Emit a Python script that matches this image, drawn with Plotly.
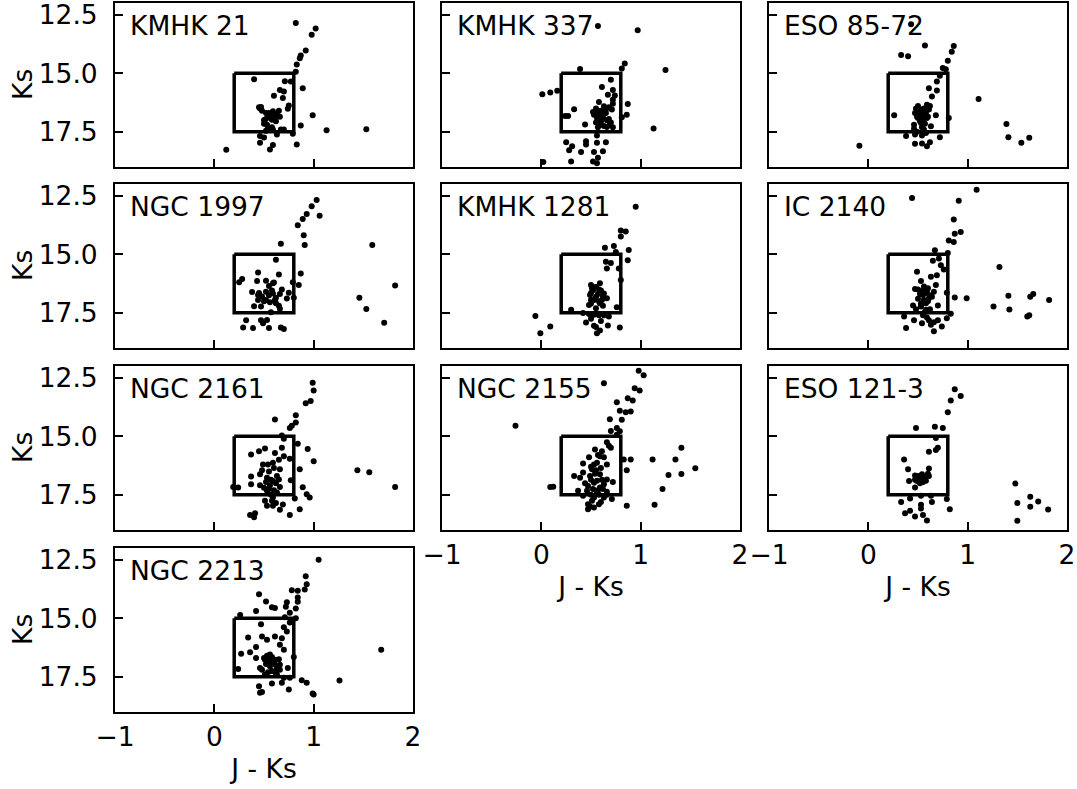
import plotly.graph_objects as go

# ---- Data (J-Ks colour, Ks magnitude) ----
kmhk21_x = [0.82,1.02,0.98,0.92,0.87,0.86,0.83,0.82,0.40,0.71,0.77,0.89,0.66,0.70,0.60,0.69,0.75,0.74,0.47,0.46,0.52,0.59,0.56,0.61,0.66,0.53,0.99,0.50,0.54,0.59,0.67,0.87,1.13,1.53,0.79,0.63,0.46,0.50,0.46,0.83,0.59,0.56,0.12,0.51,0.63,0.58,
            0.48,0.55,0.60,0.57,0.50,0.62,0.53,0.58,0.65,0.45,0.70,0.52]
kmhk21_y = [12.85,13.09,13.36,14.03,14.24,14.36,14.62,14.93,15.25,15.34,15.35,15.64,15.71,15.78,15.96,16.06,16.37,16.51,16.44,16.50,16.69,16.62,16.81,16.86,16.86,16.91,16.79,17.15,17.33,17.40,17.40,17.23,17.43,17.39,17.58,17.61,17.68,17.74,17.97,18.04,18.06,18.25,18.26,16.98,16.77,16.98,
            16.60,16.70,16.75,16.90,17.00,17.05,17.20,17.30,16.60,16.45,17.40,17.45]

kmhk337_x = [0.57,0.97,0.84,0.81,1.25,0.39,0.70,0.61,0.72,0.67,0.74,0.72,0.01,0.09,0.16,0.58,0.87,0.33,0.71,0.58,0.53,0.62,0.86,0.24,0.27,0.56,0.68,0.81,0.44,0.60,0.66,0.72,1.13,0.56,0.25,0.45,0.56,0.65,0.31,0.28,0.45,0.40,0.53,0.62,0.57,0.02,0.30,0.52,0.56,0.63,0.54,0.65,0.60,0.69,
             0.55,0.60,0.65,0.58,0.62,0.66,0.55,0.70,0.63,0.72,0.68,0.52,0.57]
kmhk337_y = [12.98,13.16,14.58,14.80,14.86,14.82,15.28,15.59,15.71,15.92,15.95,16.13,15.89,15.82,15.75,16.23,16.31,16.53,16.55,16.62,16.77,16.77,16.77,16.82,16.82,16.91,16.95,16.88,17.19,17.19,17.29,17.30,17.36,17.66,17.94,17.90,17.97,17.94,18.11,18.29,18.04,18.36,18.36,18.33,18.60,18.79,18.77,18.77,18.84,16.41,16.69,16.69,17.05,17.19,
             16.50,16.60,16.55,16.80,16.90,17.00,17.10,17.10,17.25,16.30,16.45,16.65,17.30]

eso85_x = [0.43,0.57,0.33,0.40,0.86,0.84,0.80,0.75,0.78,0.72,0.69,0.61,0.69,0.64,1.11,0.59,0.53,0.47,0.56,0.50,0.59,0.26,0.68,0.81,0.53,0.63,0.46,0.56,1.39,0.47,0.38,0.54,0.72,1.41,1.62,1.54,-0.09,0.47,0.54,0.62,0.59,0.54,0.61,0.51,
           0.48,0.52,0.56,0.58,0.49,0.55,0.60,0.52,0.57,0.46,0.62,0.50,0.54,0.49,0.58]
eso85_y = [12.91,13.81,14.22,14.27,13.84,14.08,14.46,14.77,14.83,15.11,15.35,15.64,15.73,15.99,16.10,16.34,16.55,16.69,16.77,16.91,16.91,16.79,16.79,16.91,17.12,17.26,17.37,17.40,17.16,17.61,17.68,17.66,17.73,17.73,17.75,17.97,18.09,18.01,18.00,17.94,18.11,16.62,16.55,16.81,
           16.50,16.60,16.50,16.70,16.85,16.95,16.85,17.05,17.15,17.20,16.40,16.40,17.30,17.50,17.55]

ngc1997_x = [1.03,0.98,0.93,0.89,1.06,0.84,0.90,0.91,0.67,1.59,0.62,0.44,0.65,0.87,0.28,0.25,0.43,0.52,0.59,0.79,0.85,1.82,0.38,0.44,0.52,0.59,0.66,0.75,0.80,0.73,0.61,0.52,1.46,0.40,0.47,0.62,0.66,1.53,0.57,0.53,0.47,0.32,1.71,0.29,0.39,0.55,0.67,0.70,0.49,
             0.45,0.48,0.55,0.58,0.62,0.50,0.56,0.44,0.60,0.55,0.68,0.65]
ngc1997_y = [12.68,12.95,13.28,13.49,13.35,13.76,14.19,14.60,14.55,14.60,15.23,15.78,15.86,15.82,16.06,16.19,16.14,16.13,16.24,16.19,16.31,16.33,16.61,16.74,16.60,16.67,16.69,16.64,16.86,16.89,16.95,16.95,16.86,17.22,17.23,17.09,17.33,17.34,17.47,17.80,17.82,17.82,17.92,18.12,18.15,18.15,18.12,18.19,17.94,
             16.65,16.80,16.75,16.55,16.85,17.00,17.05,16.95,16.20,16.35,16.50,17.20]

kmhk1281_x = [0.95,0.80,0.85,0.80,0.64,0.73,0.88,0.75,0.87,0.65,0.70,0.66,0.78,0.80,0.50,0.59,0.52,0.58,0.63,0.49,0.55,0.66,0.48,0.59,0.76,0.30,-0.06,0.42,0.53,0.68,0.45,0.53,0.67,0.09,0.79,0.59,0.56,-0.01,0.55,0.61,0.50,
              0.51,0.55,0.60,0.50,0.57,0.62,0.53,0.58,0.50,0.62,0.55,0.48,0.58,0.63,0.50,0.60,0.55]
kmhk1281_y = [12.97,13.98,14.03,14.24,14.72,14.65,14.82,14.90,15.25,15.32,15.37,15.61,15.61,16.10,16.31,16.24,16.53,16.50,16.67,16.74,16.81,16.88,17.16,17.09,17.26,17.37,17.63,17.51,17.58,17.66,17.91,18.05,18.04,18.08,18.12,18.25,18.37,18.37,16.40,16.95,16.95,
              16.45,16.40,16.55,16.65,16.70,16.80,16.95,17.00,17.10,17.20,17.30,17.55,17.60,17.60,17.75,17.85,18.10]

ic2140_x = [1.09,0.44,0.91,0.86,0.93,0.87,0.81,0.86,0.67,0.80,0.71,0.65,0.73,0.76,0.49,0.69,0.63,1.32,0.53,0.68,0.47,0.59,0.55,0.64,0.79,0.87,0.99,0.45,0.53,0.70,1.26,1.41,1.63,1.66,1.82,1.42,0.58,0.83,0.36,1.60,1.62,0.79,0.46,0.61,0.70,0.54,0.63,0.74,0.38,0.66,0.56,0.61,0.58,0.53,
            0.50,0.55,0.60,0.52,0.58,0.62,0.50,0.56,0.60,0.66,0.53,0.48,0.57,0.62,0.55,0.59,0.66]
ic2140_y = [12.25,12.60,12.72,13.52,14.05,14.12,14.41,14.48,14.83,14.94,15.18,15.28,15.47,15.65,15.75,15.89,15.96,15.54,16.14,16.31,16.48,16.60,16.74,16.81,16.64,16.84,16.88,17.19,17.15,17.19,17.23,16.77,16.81,16.69,16.95,17.36,17.37,17.54,17.66,17.66,17.60,17.73,17.82,17.82,17.82,17.94,18.01,18.08,18.15,18.29,16.38,16.88,17.09,17.23,
            16.50,16.55,16.45,16.70,16.65,16.75,16.90,16.95,17.00,16.60,17.10,17.35,17.45,17.35,17.60,17.70,17.90]

ngc2161_x = [0.99,1.00,0.97,0.92,0.82,0.61,0.82,0.76,0.78,0.68,0.70,0.84,0.94,0.51,0.68,0.45,0.37,0.61,0.70,0.76,1.00,0.49,0.59,0.66,0.86,1.44,1.56,0.37,0.46,0.53,0.59,0.65,0.77,0.37,0.46,0.56,0.66,0.19,0.24,0.89,1.82,0.53,0.63,0.81,0.93,0.96,0.51,0.59,0.53,0.59,0.69,0.66,0.86,0.76,0.36,0.41,0.40,
             0.48,0.55,0.60,0.52,0.57,0.62,0.50,0.55,0.60,0.63,0.57,0.58,0.62,0.54,0.65]
ngc2161_y = [12.71,13.05,13.49,13.59,14.10,14.28,14.41,14.65,14.55,14.97,15.11,15.32,15.54,15.52,15.49,15.64,15.78,15.71,15.85,15.96,16.07,16.20,16.13,16.41,16.41,16.45,16.54,16.72,16.62,16.77,16.91,16.84,16.88,17.05,17.09,17.09,17.16,17.16,17.19,17.18,17.16,17.33,17.40,17.66,17.47,17.61,17.75,17.61,17.97,17.97,17.91,18.14,18.11,18.36,18.36,18.29,18.46,
             16.45,16.50,16.35,16.95,16.85,17.00,17.20,17.25,17.30,16.70,17.50,17.75,17.85,16.20,16.00]

ngc2155_x = [0.98,1.03,0.63,0.94,0.99,0.87,0.92,0.76,0.79,0.85,0.90,0.69,0.81,-0.26,0.76,0.70,0.79,0.76,0.66,0.70,1.41,0.54,0.61,0.83,0.90,1.12,1.35,0.48,0.59,0.42,0.53,0.66,1.55,0.86,1.41,1.28,0.33,0.39,0.49,0.59,0.66,0.53,0.63,0.72,0.09,0.12,1.22,0.37,0.46,0.56,0.66,0.42,0.53,0.63,0.71,0.47,0.58,0.86,1.14,0.47,0.53,0.51,0.56,0.47,0.59,0.42,
             0.50,0.55,0.60,0.50,0.56,0.61,0.52,0.57,0.62,0.50,0.58,0.66,0.51,0.60,0.49,0.63,0.57,0.68,0.44,0.54]
ngc2155_y = [12.20,12.40,12.74,12.95,13.05,13.38,13.47,13.55,13.91,13.97,13.94,14.27,14.29,14.55,14.65,14.77,14.79,14.93,15.25,15.49,15.49,15.56,15.64,15.99,15.99,15.99,15.99,15.89,15.85,16.16,16.20,16.20,16.36,16.45,16.61,16.65,16.69,16.77,16.69,16.62,16.84,16.98,17.05,16.95,17.16,17.15,17.25,17.33,17.33,17.40,17.37,17.54,17.61,17.61,17.68,17.90,17.90,17.97,17.92,18.11,18.04,16.41,16.13,17.12,17.19,16.55,
             16.30,16.45,16.35,16.85,16.90,16.85,17.25,17.30,17.25,17.50,17.50,17.50,17.75,17.80,18.00,15.90,15.80,15.40,17.00,16.60]

eso121_x = [0.87,0.93,0.83,0.80,0.48,0.67,0.75,0.68,0.70,0.68,0.61,0.36,0.40,0.61,0.47,0.54,0.61,0.41,0.49,0.57,0.47,1.48,0.53,0.42,0.63,0.79,0.33,0.64,0.53,1.63,1.71,1.50,1.63,1.81,0.82,0.42,0.53,0.37,0.47,0.55,0.59,1.50,
            0.50,0.53,0.57,0.47,0.55,0.60,0.52,0.58]
eso121_y = [12.99,13.28,13.47,13.97,14.65,14.59,14.65,15.07,15.49,15.59,15.66,15.99,16.41,16.38,16.67,16.62,16.69,16.91,16.91,16.84,17.19,17.02,17.54,17.66,17.54,17.68,17.80,17.80,17.92,17.58,17.78,17.85,18.01,18.12,18.11,18.18,18.08,18.29,18.42,18.36,18.59,18.60,
            16.70,16.80,16.75,16.85,16.95,16.60,17.00,16.90]

ngc2213_x = [1.05,0.92,0.93,0.91,0.78,0.84,0.45,0.84,0.84,0.52,0.73,0.58,0.61,0.72,0.82,0.42,0.26,0.76,0.71,0.82,0.76,0.47,0.70,0.73,0.48,0.34,0.61,0.68,0.53,0.66,0.42,0.70,1.68,0.27,0.36,0.56,0.42,0.51,0.61,0.80,0.56,0.66,0.24,0.46,0.63,0.74,0.51,0.63,0.70,0.76,0.68,0.88,0.93,1.26,0.45,0.58,0.75,0.46,0.48,0.99,1.00,
             0.50,0.55,0.58,0.60,0.52,0.56,0.62,0.48,0.58,0.54,0.65,0.53,0.62,0.66]
ngc2213_y = [12.50,13.21,13.55,13.77,13.80,13.83,13.97,14.11,14.29,14.28,14.32,14.53,14.56,14.51,14.58,14.69,14.86,14.76,14.96,15.00,15.18,15.25,15.38,15.56,15.78,15.82,15.78,15.85,15.92,16.13,16.23,16.34,16.34,16.51,16.45,16.55,16.69,16.77,16.77,16.65,16.91,16.98,17.16,17.12,17.19,17.12,17.40,17.40,17.54,17.54,17.75,17.64,17.75,17.66,17.90,17.78,18.04,18.18,18.15,18.21,18.25,
             16.70,16.80,16.65,16.90,16.95,17.05,17.00,17.20,17.25,17.30,16.75,16.60,17.35,17.20]

cluster_names = ["KMHK 21", "KMHK 337", "ESO 85-72", "NGC 1997", "KMHK 1281",
                 "IC 2140", "NGC 2161", "NGC 2155", "ESO 121-3", "NGC 2213"]
cluster_x = [kmhk21_x, kmhk337_x, eso85_x, ngc1997_x, kmhk1281_x,
             ic2140_x, ngc2161_x, ngc2155_x, eso121_x, ngc2213_x]
cluster_y = [kmhk21_y, kmhk337_y, eso85_y, ngc1997_y, kmhk1281_y,
             ic2140_y, ngc2161_y, ngc2155_y, eso121_y, ngc2213_y]

# red-clump selection box
box_x = [0.2, 0.8, 0.8, 0.2, 0.2]
box_y = [15.0, 15.0, 17.5, 17.5, 15.0]

x_ticks = [-1, 0, 1, 2]
x_ticktext = ["\u22121", "0", "1", "2"]
y_ticks = [12.5, 15.0, 17.5]
y_ticktext = ["12.5", "15.0", "17.5"]

W, H = 1077, 789
col_px = [(115, 413), (442, 740), (769, 1067)]
row_px = [(3, 167), (184, 348), (366, 530), (548, 712)]
positions = [(0, 0), (0, 1), (0, 2), (1, 0), (1, 1), (1, 2), (2, 0), (2, 1), (2, 2), (3, 0)]
xlabel_panels = {7, 8, 9}
ylabel_cols = {0}
YTITLE_X = 22  # pixel centre of the rotated "Ks" label

FONT = "DejaVu Sans"
FS = 26.5
fig = go.Figure()
layout = dict(
    width=W, height=H, margin=dict(l=0, r=0, t=0, b=0),
    paper_bgcolor="white", plot_bgcolor="white", showlegend=False,
    font=dict(family=FONT, size=FS, color="black"),
)
annotations = []
for i, (name, xs, ys) in enumerate(zip(cluster_names, cluster_x, cluster_y)):
    r, c = positions[i]
    k = "" if i == 0 else str(i + 1)
    xa, ya = "x" + k, "y" + k
    fig.add_trace(go.Scatter(x=xs, y=ys, mode="markers", xaxis=xa, yaxis=ya,
                             marker=dict(color="black", size=6), hoverinfo="skip"))
    fig.add_trace(go.Scatter(x=box_x, y=box_y, mode="lines", xaxis=xa, yaxis=ya,
                             line=dict(color="black", width=3.5), hoverinfo="skip"))
    x0, x1 = col_px[c]
    y0, y1 = row_px[r]
    show_x = i in xlabel_panels
    show_y = c in ylabel_cols
    layout["xaxis" + k] = dict(
        domain=[x0 / W, x1 / W], anchor=ya, range=[-1, 2], automargin=False,
        tickvals=x_ticks, ticktext=x_ticktext, showticklabels=show_x,
        ticklabeloverflow="allow",
        ticks="inside", ticklen=8, tickwidth=1.5, tickcolor="black",
        showline=True, mirror=True, linecolor="black", linewidth=2,
        showgrid=False, zeroline=False,
        title=dict(text="J - Ks" if show_x else "", standoff=9, font=dict(size=FS)),
    )
    layout["yaxis" + k] = dict(
        domain=[1 - y1 / H, 1 - y0 / H], anchor=xa, range=[19, 12], automargin=False,
        tickvals=y_ticks, ticktext=y_ticktext, showticklabels=show_y,
        ticklabeloverflow="allow",
        ticks="inside", ticklen=8, tickwidth=1.5, tickcolor="black",
        showline=True, mirror=True, linecolor="black", linewidth=2,
        showgrid=False, zeroline=False, ticklabelstandoff=10,
    )
    if show_y:
        annotations.append(dict(text="Ks", xref="paper", yref=ya + " domain",
                                x=YTITLE_X / W, y=0.5, xanchor="center", yanchor="middle",
                                textangle=-90, showarrow=False,
                                font=dict(size=FS, family=FONT)))
    annotations.append(dict(text=name, xref=xa + " domain", yref=ya + " domain",
                            x=0.043, y=0.86, xanchor="left", yanchor="middle",
                            showarrow=False, font=dict(size=FS, family=FONT)))
layout["annotations"] = annotations
fig.update_layout(**layout)
# remove the default 8px page margin so the figure fills the window exactly
fig.write_html("out.html", config={"displayModeBar": False},
               post_script="document.body.style.margin='0px';document.body.style.overflow='hidden';")
